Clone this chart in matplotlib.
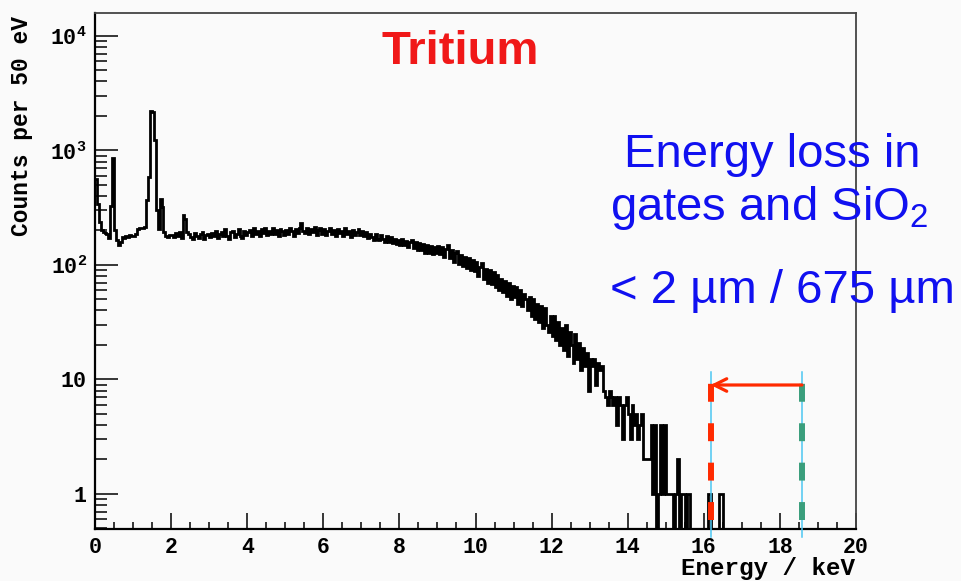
import numpy as np
import matplotlib
matplotlib.use('Agg')
import matplotlib.pyplot as plt

# tritium spectrum, counts per 50 eV bin starting at 0 keV
bin_width = 0.05
counts = [
    # 0-1 keV
    560, 340, 235, 200, 195, 190, 185, 172, 330, 860,
    200, 165, 150, 158, 175, 172, 180, 176, 182, 178,
    # 1-2 keV
    178, 185, 205, 210, 208, 212, 215, 370, 590, 2200,
    2150, 1230, 300, 205, 380, 320, 195, 180, 176, 182,
    # 2-3 keV
    184, 176, 190, 178, 194, 172, 273, 250, 195, 185,
    176, 168, 190, 180, 172, 186, 192, 170, 182, 188,
    # 3-4 keV
    176, 190, 180, 198, 172, 186, 194, 178, 204, 180,
    170, 192, 198, 174, 188, 206, 180, 172, 196, 184,
    # 4-5 keV
    192, 202, 180, 210, 186, 198, 178, 206, 190, 212,
    182, 198, 186, 208, 188, 200, 178, 204, 196, 184,
    # 5-6 keV
    200, 186, 208, 196, 180, 204, 190, 212, 234, 198,
    190, 210, 186, 204, 194, 214, 184, 200, 208, 188,
    # 6-7 keV
    204, 184, 198, 210, 186, 200, 178, 206, 190, 198,
    180, 208, 186, 196, 176, 202, 184, 194, 204, 182,
    # 7-8 keV
    196, 178, 192, 172, 188, 176, 166, 186, 170, 164,
    182, 168, 160, 178, 158, 174, 156, 170, 152, 166,
    # 8-9 keV
    150, 168, 148, 162, 142, 160, 164, 140, 158, 136,
    154, 134, 152, 128, 150, 126, 146, 124, 144, 128,
    # 9-10 keV
    146, 124, 142, 118, 138, 148, 114, 136, 106, 126,
    132, 102, 122, 98, 118, 94, 114, 90, 110, 88,
    # 10-11 keV
    106, 80, 96, 104, 76, 92, 70, 90, 68, 86,
    64, 82, 60, 76, 58, 72, 54, 70, 50, 66,
    # 11-12 keV
    52, 64, 46, 60, 44, 56, 50, 40, 52, 36,
    50, 34, 46, 32, 44, 28, 42, 30, 26, 36,
    # 12-13 keV
    24, 36, 22, 32, 20, 28, 18, 30, 16, 26,
    20, 14, 25, 15, 21, 12, 19, 13, 17, 8,
    # 13-14 keV
    15, 13, 15, 9, 14, 12, 13, 8, 7, 6,
    8, 7, 6, 7, 4, 7, 6, 3, 6, 7,
    # 14-15 keV
    5, 3, 6, 4, 5, 3, 4, 5, 2, 2,
    2, 2, 4, 1, 4, 0, 1, 4, 1, 4,
    # 15-16 keV
    1, 1, 1, 1, 0, 1, 2, 0, 1, 1,
    0, 1, 1, 0, 0, 0, 0, 0, 0, 0,
    # 16-16.6 keV
    0, 0, 1, 1, 0, 0, 0, 0, 1, 1,
    0, 0,
]

y_ticks = [1, 10, 100, 1000, 10000]
y_tick_labels = [r'$\mathbf{1}$', r'$\mathbf{10}$', r'$\mathbf{10^{2}}$',
                 r'$\mathbf{10^{3}}$', r'$\mathbf{10^{4}}$']
x_ticks = [0, 2, 4, 6, 8, 10, 12, 14, 16, 18, 20]

e_shifted = 16.18   # keV, red line
e_endpoint = 18.58  # keV, green line (tritium endpoint)

plt.rcParams['mathtext.fontset'] = 'custom'
plt.rcParams['mathtext.rm'] = 'Liberation Sans'
plt.rcParams['mathtext.bf'] = 'Liberation Mono:bold'
plt.rcParams['mathtext.it'] = 'Liberation Mono:bold'

bg = '#fafafa'
fig = plt.figure(figsize=(9.61, 5.81), dpi=100, facecolor=bg)
ax = fig.add_axes([95/961, 52/581, 761/961, 516/581], facecolor=bg)

edges = np.arange(len(counts) + 1) * bin_width
ax.stairs(counts, edges, baseline=None, color='black', lw=2.0, zorder=3)

ax.set_yscale('log', nonpositive='clip')
ax.set_xlim(0, 20)
ax.set_ylim(0.494, 15850)

ax.set_xticks(x_ticks)
ax.set_xticks(np.arange(0, 20.01, 0.5), minor=True)
ax.set_yticks(y_ticks)
ax.set_yticklabels(y_tick_labels, fontsize=15.5)
ax.tick_params(which='both', direction='in', top=False, right=False, width=1.1)
ax.tick_params(axis='y', which='major', length=16.5, pad=6)
ax.tick_params(axis='y', which='minor', length=8.6)
ax.tick_params(axis='x', which='major', length=11.5, pad=6)
ax.tick_params(axis='x', which='minor', length=5)
for lab in ax.get_xticklabels():
    lab.set_fontfamily('Liberation Mono')
    lab.set_fontweight('bold')
    lab.set_fontsize(15.5)

for side in ['left', 'bottom']:
    ax.spines[side].set_linewidth(1.6)
for side in ['top', 'right']:
    ax.spines[side].set_linewidth(1.3)
    ax.spines[side].set_color('#444444')

fig.text(22/961, 1 - 16/581, 'Counts per 50 eV', rotation=90, ha='center', va='top',
         family='Liberation Mono', weight='bold', fontsize=16.5)
fig.text(855/961, 1 - 580/581, 'Energy / keV', ha='right', va='bottom',
         family='Liberation Mono', weight='bold', fontsize=17.5)

# annotations
fig.text(460/961, 1 - 64/581, 'Tritium', ha='center', va='baseline',
         family='Liberation Sans', weight='bold', fontsize=34, color='#f01818')
blue = '#1010f0'
fig.text(772/961, 1 - 167/581, 'Energy loss in', ha='center', va='baseline',
         family='Liberation Sans', fontsize=34, color=blue)
fig.text(769/961, 1 - 220/581, r'gates and SiO$_2$', ha='center', va='baseline',
         family='Liberation Sans', fontsize=34, color=blue)
fig.text(610/961, 1 - 303/581, '< 2 µm / 675 µm', ha='left', va='baseline',
         family='Liberation Sans', fontsize=34, color=blue)

top_frac = (529 - 372) / 516
bot_frac = (529 - 520) / 516
cyan_bot = (529 - 537) / 516
for e in [e_shifted, e_endpoint]:
    ax.axvline(e, ymin=cyan_bot, ymax=top_frac, color='#4cc6f2', lw=1.1,
               zorder=4, clip_on=False)
ax.axvline(e_shifted, ymin=bot_frac, ymax=top_frac, color='#ff2a00', lw=4.3,
           linestyle=(0, (3.0, 3.6)), zorder=5)
ax.axvline(e_endpoint, ymin=bot_frac, ymax=top_frac, color='#3a9e7c', lw=4.3,
           linestyle=(0, (3.0, 3.6)), zorder=5)

arrow_y = (529 - 385) / 516
ax.annotate('', xy=(e_shifted, arrow_y), xytext=(e_endpoint, arrow_y),
            xycoords=('data', 'axes fraction'), textcoords=('data', 'axes fraction'),
            arrowprops=dict(arrowstyle='->,head_length=0.9,head_width=0.45',
                            color='#ff2a00', lw=2.3, shrinkA=0, shrinkB=0),
            zorder=6)

fig.savefig('out.png', dpi=100, facecolor=bg)
